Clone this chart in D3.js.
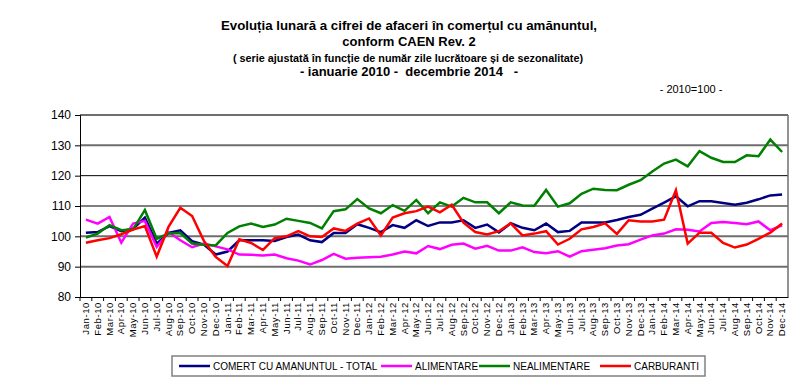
<!DOCTYPE html>
<html>
<head>
<meta charset="utf-8">
<script src="https://cdn.jsdelivr.net/npm/d3@7"></script>
<style>
  body { margin: 0; background: #fff; }
  text { font-family: "Liberation Sans", Arial, sans-serif; }
</style>
</head>
<body>
<div class="chart"></div>
<script>
// category labels
var monthNames = ["Jan", "Feb", "Mar", "Apr", "May", "Jun", "Jul", "Aug", "Sep", "Oct", "Nov", "Dec"];
var years = ["10", "11", "12", "13", "14"];
var months = years.flatMap(y => monthNames.map(m => m + "-" + y));

var yTicks = [80, 90, 100, 110, 120, 130, 140];

// series values, 2010=100
var total = [101.2, 101.4, 103.4, 101.7, 102.5, 106.2, 97.6, 101.1, 102.0, 98.4, 97.3, 94.0,
  95.0, 98.7, 98.7, 98.7, 98.5, 99.8, 100.6, 98.7, 98.1, 101.1, 101.1, 104.0,
  102.8, 101.4, 103.7, 102.8, 105.3, 103.4, 104.6, 104.6, 105.3, 102.8, 103.9, 101.3,
  104.3, 102.8, 102.0, 104.2, 101.4, 101.8, 104.6, 104.6, 104.6, 105.4, 106.4, 107.1,
  109.1, 111.1, 113.2, 109.9, 111.6, 111.6, 111.0, 110.4, 111.1, 112.2, 113.5, 113.8];

var alimentare = [105.5, 104.2, 106.4, 97.9, 104.2, 105.1, 96.5, 101.4, 98.7, 96.4, 97.6, 96.7,
  95.7, 94.0, 93.9, 93.7, 94.0, 92.8, 92.0, 90.7, 92.2, 94.2, 92.6, 92.9,
  93.1, 93.3, 94.0, 95.0, 94.4, 96.8, 95.8, 97.2, 97.6, 95.9, 96.9, 95.3,
  95.3, 96.4, 94.8, 94.4, 95.1, 93.3, 95.1, 95.6, 96.1, 97.0, 97.4, 98.9,
  100.3, 100.9, 102.3, 102.2, 101.6, 104.4, 104.7, 104.4, 104.0, 104.9, 102.0, 103.6];

var nealimentare = [99.6, 100.9, 103.7, 102.0, 102.3, 108.7, 99.2, 100.9, 101.1, 97.6, 97.2, 97.0,
  101.1, 103.3, 104.2, 103.1, 103.9, 105.8, 105.1, 104.4, 102.6, 108.3, 108.9, 112.3,
  109.2, 107.6, 110.3, 108.4, 112.0, 107.6, 111.2, 109.8, 112.7, 111.2, 111.2, 107.6,
  111.2, 110.2, 110.1, 115.3, 109.8, 110.9, 114.0, 115.7, 115.3, 115.2, 117.0, 118.5,
  121.4, 124.0, 125.3, 123.1, 128.1, 125.9, 124.5, 124.5, 126.7, 126.4, 131.9, 127.8];

var carburanti = [97.9, 98.7, 99.4, 100.7, 102.2, 103.4, 93.3, 103.1, 109.4, 106.7, 98.5, 93.2,
  90.2, 99.0, 97.8, 95.5, 99.4, 100.0, 101.7, 100.0, 99.8, 102.6, 101.8, 104.2,
  105.9, 100.3, 106.2, 107.6, 108.3, 109.8, 107.9, 110.4, 104.5, 101.4, 100.6, 101.7,
  104.3, 100.3, 100.9, 101.7, 97.3, 99.2, 102.3, 103.1, 104.3, 100.8, 105.3, 104.9,
  104.9, 105.5, 115.2, 97.6, 101.2, 101.2, 97.8, 96.3, 97.3, 99.2, 101.2, 104.2];

var seriesNames = ["COMERT CU AMANUNTUL - TOTAL", "ALIMENTARE", "NEALIMENTARE", "CARBURANTI"];
var seriesColors = ["#000080", "#ff00ff", "#008000", "#ff0000"];
var seriesData = [total, alimentare, nealimentare, carburanti];

var svgWidth = 801;
var svgHeight = 392;
var plot = { left: 80, right: 788, top: 115, bottom: 297 };

var svg = d3.select(".chart")
  .append("svg")
  .attr("width", svgWidth)
  .attr("height", svgHeight);

// titles
var title = svg.append("g").attr("font-weight", "bold").attr("text-anchor", "middle");
title.append("text").attr("x", 409).attr("y", 30).attr("font-size", 13)
  .attr("textLength", 376).attr("lengthAdjust", "spacingAndGlyphs")
  .text("Evoluția lunară a cifrei de afaceri în  comerțul cu amănuntul,");
title.append("text").attr("x", 409).attr("y", 46).attr("font-size", 13)
  .text("conform CAEN Rev. 2");
title.append("text").attr("x", 408).attr("y", 62).attr("font-size", 11.5)
  .attr("textLength", 350).attr("lengthAdjust", "spacingAndGlyphs")
  .text("( serie ajustată în funcție de număr zile lucrătoare și de sezonalitate)");
title.append("text").attr("x", 409).attr("y", 76).attr("font-size", 13)
  .attr("xml:space", "preserve")
  .text("- ianuarie 2010 -  decembrie 2014   -");

svg.append("text")
  .attr("x", 691).attr("y", 93)
  .attr("text-anchor", "middle")
  .attr("font-size", 11)
  .text("- 2010=100 -");

// scales
var xScale = d3.scaleBand().domain(months).range([plot.left, plot.right]);
var yScale = d3.scaleLinear().domain([80, 140]).range([plot.bottom, plot.top]);

// gridlines
svg.append("g").selectAll("line")
  .data(yTicks.filter(d => d > 80))
  .enter()
  .append("line")
  .attr("x1", plot.left).attr("x2", plot.right)
  .attr("y1", d => yScale(d)).attr("y2", d => yScale(d))
  .attr("stroke", d => (d == 120 || d == 110) ? "#000" : "#6e6e6e")
  .attr("stroke-width", d => (d == 120 || d == 110) ? 1 : 2);

// right border of plot area
svg.append("line")
  .attr("x1", plot.right).attr("x2", plot.right)
  .attr("y1", plot.top).attr("y2", plot.bottom)
  .attr("stroke", "#6e6e6e").attr("stroke-width", 1.5);

// y axis
var leftAxis = d3.axisLeft(yScale).tickValues(yTicks).tickSize(5).tickPadding(4);
var yAxis = svg.append("g")
  .attr("transform", `translate(${plot.left}, 0)`)
  .call(leftAxis);
yAxis.selectAll("text").attr("font-size", 12).attr("fill", "#000")
  .style("font-family", "'Liberation Sans', Arial, sans-serif");
yAxis.selectAll("line, path").attr("stroke", "#000");

// x axis: ticks between categories
var bottomAxis = d3.axisBottom(xScale).tickSize(0).tickSizeOuter(0);
var xAxis = svg.append("g")
  .attr("transform", `translate(0, ${plot.bottom})`)
  .call(bottomAxis);
xAxis.select("path").attr("stroke", "#000");
xAxis.selectAll("text")
  .attr("transform", "rotate(-90)")
  .attr("x", -5).attr("y", 0).attr("dy", "0.33em")
  .attr("text-anchor", "end")
  .attr("font-size", 9.5)
  .attr("letter-spacing", "0.6")
  .attr("fill", "#000")
  .style("font-family", "'Liberation Sans', Arial, sans-serif");
xAxis.selectAll(".tickmark")
  .data(months)
  .enter()
  .append("line")
  .attr("x1", d => xScale(d)).attr("x2", d => xScale(d))
  .attr("y1", 0).attr("y2", 4)
  .attr("stroke", "#000");

// lines
var line = d3.line()
  .x((d, i) => xScale(months[i]) + xScale.bandwidth() / 2)
  .y(d => yScale(d));

svg.append("g").selectAll("path")
  .data(seriesData)
  .enter()
  .append("path")
  .attr("d", d => line(d))
  .attr("fill", "none")
  .attr("stroke", (d, i) => seriesColors[i])
  .attr("stroke-width", 2.5)
  .attr("stroke-linejoin", "miter");

// legend
var legend = svg.append("g");
legend.append("rect")
  .attr("x", 172).attr("y", 356)
  .attr("width", 533).attr("height", 20)
  .attr("fill", "#fff").attr("stroke", "#808080").attr("stroke-width", 1.5);

var legendX = [179, 381, 479, 600];
seriesNames.forEach(function(name, i) {
  legend.append("line")
    .attr("x1", legendX[i]).attr("x2", legendX[i] + 31)
    .attr("y1", 366).attr("y2", 366)
    .attr("stroke", seriesColors[i]).attr("stroke-width", 2.5);
  legend.append("text")
    .attr("x", legendX[i] + 34).attr("y", 370)
    .attr("font-size", 10)
    .text(name);
});
</script>
</body>
</html>
